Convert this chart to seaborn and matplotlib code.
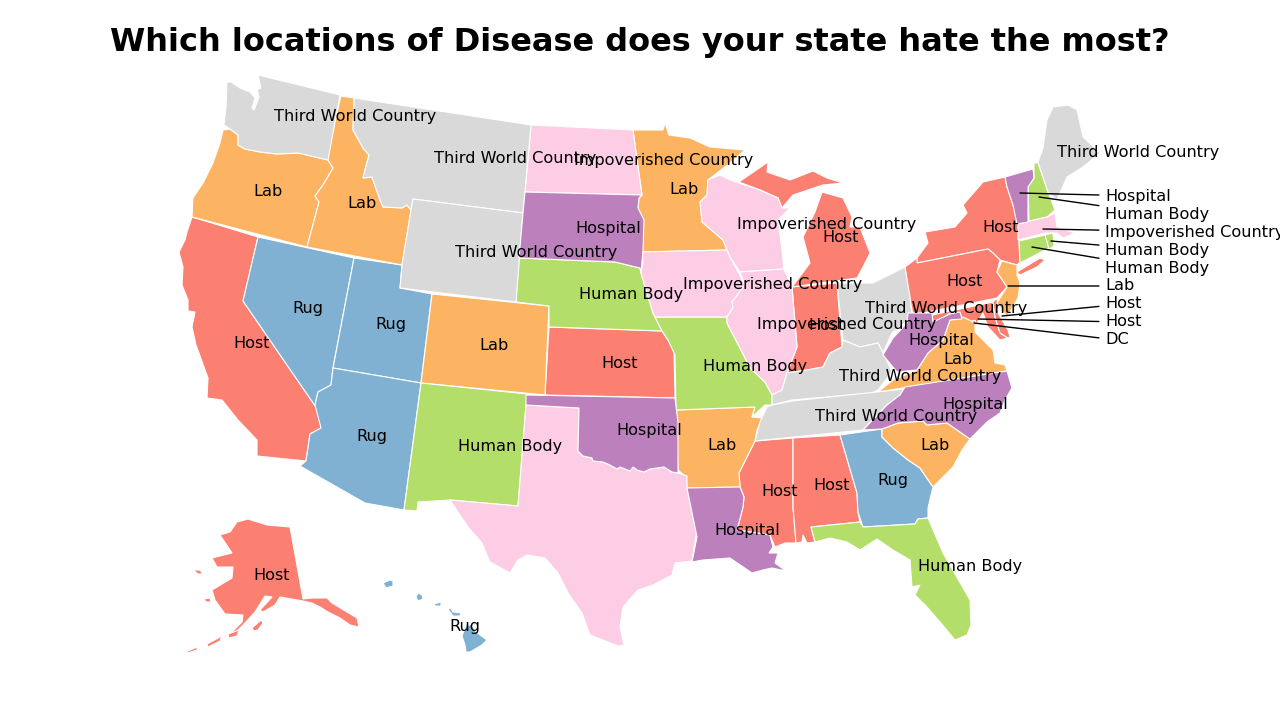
import matplotlib
matplotlib.use('Agg')
import matplotlib.pyplot as plt
import seaborn as sns

# state outlines
RED_RIVER = [(578,451),(583,456),(592,458),(593,461),(603,462),(610,465),(617,469),(620,467),(625,469),(630,471),(633,467),(637,470),(644,472),(650,469),(657,468),(664,467),(672,472),(678,473)]

WA = [(258,75),(340,95),(328,160),(298,153),(277,154),(260,152),(245,149),(238,145),(238,135),(230,129),(224,125),(226,107),(227,82),(231,82),(240,88),(250,92),(255,98),(252,108),(254,110),(259,97),(257,90),(261,88)]
OR = [(223,130),(230,129),(238,135),(238,145),(245,149),(260,152),(277,154),(298,153),(328,160),(333,168),(323,185),(315,196),(319,202),(307,247),(192,217),(193,198),(203,183),(213,163),(220,143)]
ID = [(341,96),(354,98),(353,130),(363,148),(369,155),(365,170),(363,178),(372,177),(380,200),(383,207),(402,208),(407,205),(411,210),(402,265),(307,247),(319,202),(315,196),(323,185),(333,168),(328,160),(328,150)]
MT = [(354,98),(531,125),(523,213),(413,199),(411,210),(407,205),(402,208),(383,207),(380,200),(372,177),(363,178),(365,170),(369,155),(363,148),(353,130)]
WY = [(413,199),(523,213),(516,302),(400,288),(402,265),(411,210)]
NV = [(258,237),(354,258),(333,368),(331,385),(318,392),(315,405),(318,410),(243,301)]
CA = [(192,217),(258,237),(243,301),(318,410),(321,428),(310,434),(306,461),(257,456),(257,440),(238,420),(222,400),(207,398),(208,378),(196,345),(192,327),(195,312),(188,311),(188,300),(182,285),(183,267),(179,252),(185,240),(187,232)]
UT = [(354,258),(402,265),(400,288),(432,294),(421,383),(333,368)]
AZ = [(333,368),(421,383),(404,510),(365,503),(300,466),(306,461),(310,434),(321,428),(315,405),(318,392),(331,385)]
CO = [(432,294),(549,306),(545,395),(421,383)]
NM = [(421,383),(527,394),(526,405),(518,506),(450,500),(418,502),(417,511),(404,510)]
TX = [(526,405),(579,408)] + RED_RIVER + [(687,476),(687,488),(697,530),(692,561),(675,563),(672,575),(653,585),(638,590),(623,607),(620,627),(624,645),(618,646),(590,635),(582,613),(568,593),(558,573),(545,558),(527,555),(518,560),(510,573),(490,562),(482,543),(468,527),(450,500),(518,506)]
OK = [(526,395),(675,398),(678,423)] + RED_RIVER[::-1] + [(579,408),(526,405)]
KS = [(549,327),(662,331),(668,340),(674,350),(675,398),(545,395)]
NE = [(519,258),(615,262),(640,268),(641,273),(647,293),(653,313),(662,331),(549,327),(549,306),(516,302)]
SD = [(525,192),(642,195),(639,198),(638,208),(644,220),(643,250),(641,273),(640,268),(615,262),(519,258),(523,213)]
ND = [(531,125),(633,130),(637,160),(642,195),(525,192)]
MN = [(633,130),(663,130),(665,123),(669,135),(690,138),(710,147),(745,150),(730,163),(708,180),(707,195),(700,202),(702,222),(723,240),(727,250),(642,252),(643,220),(638,208),(639,198),(642,195),(637,160)]
WI = [(708,180),(720,175),(730,180),(760,190),(778,198),(782,208),(790,208),(778,220),(782,250),(784,269),(740,272),(730,257),(727,250),(723,240),(702,222),(700,202),(707,195)]
MI_UP = [(739,182),(768,162),(767,172),(790,180),(813,171),(827,178),(843,183),(823,185),(793,195),(782,208),(778,198),(760,190)]
MI_LP = [(822,192),(843,198),(852,217),(850,227),(860,227),(870,253),(863,267),(857,278),(792,287),(810,263),(803,237),(815,212)]
IA = [(642,252),(727,250),(730,257),(745,285),(732,302),(733,308),(727,317),(655,317),(653,313),(647,293),(641,273),(643,262)]
IL = [(740,272),(784,269),(792,287),(797,347),(787,373),(782,390),(772,395),(765,382),(750,368),(742,352),(727,323),(727,317),(733,308),(732,302),(745,285)]
IN = [(792,287),(837,283),(842,347),(830,353),(823,367),(807,370),(787,373),(797,347)]
OH = [(837,283),(873,283),(905,267),(910,297),(912,317),(892,333),(883,353),(878,343),(860,347),(843,340)]
KY = [(843,340),(860,347),(878,343),(883,353),(888,363),(892,372),(878,390),(872,393),(792,400),(772,405),(772,395),(782,390),(787,373),(807,370),(823,367),(830,353),(842,347)]
TN = [(792,401),(905,389),(900,395),(887,405),(863,430),(755,441),(760,422),(767,407),(772,405)]
NC = [(905,387),(1007,371),(1012,388),(1005,400),(1000,413),(987,422),(970,439),(947,423),(927,425),(923,421),(898,423),(882,429),(863,430),(887,405),(900,395)]
SC = [(882,429),(898,423),(923,421),(927,425),(947,423),(970,439),(962,450),(953,467),(933,487),(920,468),(908,460),(893,448),(882,437)]
GA = [(840,435),(882,429),(882,437),(893,448),(908,460),(920,468),(933,487),(928,508),(928,518),(918,519),(915,524),(863,527),(858,512),(857,493)]
AL = [(793,438),(840,435),(857,493),(858,512),(860,522),(811,527),(815,542),(807,543),(803,535),(802,542),(796,543),(793,507)]
MS = [(755,441),(793,438),(793,507),(796,543),(785,543),(775,547),(770,535),(737,530),(743,507),(744,497),(740,487),(739,473),(748,455)]
AR = [(676,410),(755,407),(752,417),(763,418),(757,430),(755,441),(748,455),(739,473),(740,487),(687,488),(686,477),(678,470)]
LA = [(687,488),(740,487),(744,497),(743,507),(737,530),(770,535),(773,547),(769,553),(778,553),(775,563),(786,571),(772,568),(763,570),(752,573),(730,558),(703,560),(692,562),(697,537)]
FL = [(811,527),(860,522),(863,527),(915,524),(918,519),(928,518),(943,553),(970,600),(971,625),(967,635),(955,640),(940,622),(927,607),(915,595),(920,585),(912,587),(910,560),(893,550),(877,539),(860,550),(847,542),(830,538),(815,542)]
MO = [(655,317),(727,317),(727,323),(742,352),(750,368),(765,382),(772,395),(772,405),(765,405),(752,417),(755,407),(676,410),(675,355),(668,340),(662,331)]
WV = [(908,313),(932,313),(933,322),(950,314),(960,312),(962,319),(950,320),(943,340),(928,353),(917,370),(897,372),(883,355),(893,338),(907,323)]
VA = [(878,392),(893,380),(917,370),(928,353),(943,340),(950,320),(963,317),(975,323),(975,332),(993,350),(995,363),(1005,365),(1007,371)]
VA_SHORE = [(1006,338),(1001,358),(1004,352)]
MD = [(932,315),(993,302),(995,317),(1000,333),(1008,338),(1000,340),(988,327),(983,313),(977,323),(962,318),(950,313),(943,318),(933,322)]
DE = [(993,302),(997,298),(998,313),(1008,330),(1010,337),(1008,338),(1000,333),(995,317)]
PA = [(905,267),(917,258),(917,263),(988,249),(993,253),(1000,260),(997,272),(1007,287),(997,298),(913,315),(908,290)]
NY = [(1005,177),(983,182),(963,205),(967,213),(955,227),(925,232),(928,243),(917,258),(917,263),(988,249),(993,253),(1000,260),(1017,265),(1020,262),(1018,217),(1013,205),(1007,187)]
LONG_ISLAND = [(1017,272),(1040,258),(1045,260),(1037,267),(1020,275)]
VT = [(1005,177),(1033,169),(1034,178),(1028,187),(1028,222),(1017,224),(1013,205),(1007,187)]
NH = [(1034,163),(1038,163),(1048,192),(1055,210),(1047,217),(1029,221),(1028,187),(1034,178)]
ME = [(1038,162),(1043,148),(1047,120),(1053,107),(1068,105),(1077,110),(1083,137),(1100,153),(1083,167),(1067,177),(1057,200),(1048,192)]
MA = [(1018,224),(1047,217),(1055,213),(1057,227),(1075,233),(1063,238),(1057,233),(1045,233),(1018,240)]
CT = [(1019,241),(1045,235),(1049,248),(1020,263)]
RI = [(1045,235),(1053,233),(1054,246),(1049,249)]
NJ = [(1002,261),(1017,265),(1017,275),(1020,283),(1018,298),(1007,317),(997,303),(1007,287),(997,272)]
AK = [(290,527),(303,599),(312,598),(327,598),(332,603),(357,618),(359,627),(350,625),(340,618),(328,612),(320,607),(312,603),(303,601),(280,597),(275,605),(263,612),(260,610),(272,597),(265,596),(255,612),(245,623),(235,633),(228,636),(242,622),(243,615),(225,614),(215,600),(212,590),(232,578),(233,567),(217,567),(212,558),(232,553),(220,535),(230,532),(237,522),(248,519),(267,525)]
AK_KODIAK = [(252,628),(261,620),(263,623),(258,630),(254,631)]
AK_ISLE1 = [(193,570),(200,570),(203,574),(198,574)]
AK_ISLE2 = [(204,599),(210,598),(211,602),(206,602)]
AK_CHAIN1 = [(228,634),(239,630),(237,636),(229,638)]
AK_CHAIN2 = [(207,644),(222,636),(220,641),(208,647)]
AK_CHAIN3 = [(186,652),(197,647),(197,650),(188,653)]
HI_KAUAI = [(383,583),(390,580),(393,581),(393,586),(386,588)]
HI_OAHU = [(416,597),(418,593),(422,595),(423,599),(418,601)]
HI_MOLOKAI = [(434,604),(441,602),(441,606),(435,606)]
HI_MAUI = [(448,609),(451,608),(453,612),(461,613),(460,616),(453,616)]
HI_BIG = [(462,636),(466,625),(472,625),(476,632),(487,640),(482,645),(470,652),(466,652),(465,645)]
DC = [(972,320),(975,320),(975,323),(972,323)]

THIRD = 'Third World Country'
POOR = 'Impoverished Country'
BODY = 'Human Body'

host_shapes = [CA, NY, LONG_ISLAND, PA, KS, MI_UP, MI_LP, IN, MS, AL, MD, DE, DC, AK, AK_KODIAK, AK_ISLE1, AK_ISLE2, AK_CHAIN1, AK_CHAIN2, AK_CHAIN3]
rug_shapes = [NV, UT, AZ, GA, HI_KAUAI, HI_OAHU, HI_MOLOKAI, HI_MAUI, HI_BIG]
lab_shapes = [OR, ID, CO, MN, AR, VA, VA_SHORE, SC, NJ]
body_shapes = [NE, NM, MO, FL, NH, CT, RI]
poor_shapes = [ND, TX, WI, IA, IL, MA]
hosp_shapes = [SD, OK, LA, WV, NC, VT]
third_shapes = [WA, MT, WY, OH, KY, TN, ME]

sns.set_style('white')
pal = sns.color_palette('Set3')
groups = [(host_shapes, pal[3]), (rug_shapes, pal[4]), (lab_shapes, pal[5]), (body_shapes, pal[6]),
          (poor_shapes, pal[7]), (third_shapes, pal[8]), (hosp_shapes, pal[9])]

# state labels drawn on the map
map_names = [THIRD, 'Lab', 'Lab', THIRD, THIRD, POOR, 'Hospital', 'Lab', POOR, 'Host', POOR, POOR,
             THIRD, THIRD, THIRD, THIRD, BODY, BODY, BODY, BODY, 'Lab', 'Lab', 'Lab', 'Lab',
             'Host', 'Host', 'Host', 'Host', 'Host', 'Host', 'Host', 'Host',
             'Rug', 'Rug', 'Rug', 'Rug', 'Rug', 'Hospital', 'Hospital', 'Hospital', 'Hospital']
map_x = [355, 268, 362, 515, 536, 664, 608, 684, 827, 841, 773, 847,
         946, 920, 896, 1138, 631, 755, 510, 970, 494, 722, 958, 935,
         252, 1001, 965, 620, 827, 780, 832, 272,
         308, 391, 372, 893, 465, 649, 747, 941, 975]
map_y = [117, 191, 204, 158, 252, 161, 229, 189, 224, 237, 284, 325,
         309, 376, 416, 152, 295, 367, 447, 567, 345, 445, 359, 446,
         343, 228, 282, 364, 325, 491, 485, 575,
         308, 324, 436, 481, 627, 430, 531, 340, 405]

# small states labelled at the side
side_names = ['Hospital', BODY, POOR, BODY, BODY, 'Lab', 'Host', 'Host', 'DC']
side_x = [1020, 1039, 1043, 1051, 1032, 1008, 1002, 978, 974]
side_y = [193, 197, 229, 241, 247, 286, 316, 319, 323]
side_label_y = [196, 214, 232, 250, 268, 286, 304, 322, 340]

fig = plt.figure(figsize=(12.8, 7.2), dpi=100)
ax = fig.add_axes([0, 0, 1, 1])
ax.set_xlim(0, 1280)
ax.set_ylim(720, 0)
ax.axis('off')

for shapes, color in groups:
    for shape in shapes:
        xs, ys = zip(*shape)
        ax.fill(xs, ys, facecolor=color, edgecolor='white', linewidth=0.8, zorder=2)

for name, x, y in zip(map_names, map_x, map_y):
    ax.text(x, y, name, ha='center', va='center', fontsize=11.6, color='black', zorder=5)

for name, x, y, ly in zip(side_names, side_x, side_y, side_label_y):
    ax.annotate(name, xy=(x, y), xytext=(1105, ly), ha='left', va='center', fontsize=11.6, color='black', zorder=5,
                arrowprops=dict(arrowstyle='-', color='black', lw=1, shrinkA=2, shrinkB=0))

ax.text(640, 42.5, 'Which locations of Disease does your state hate the most?', ha='center', va='center',
        fontsize=23, fontweight='bold', color='black')

fig.savefig('out.png', dpi=100)
